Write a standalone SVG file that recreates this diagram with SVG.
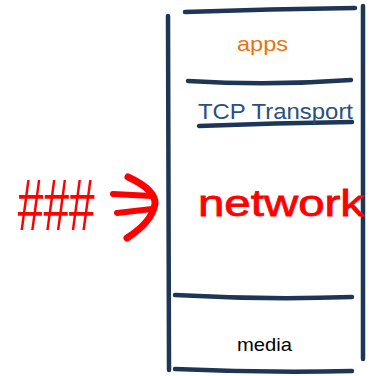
<svg xmlns="http://www.w3.org/2000/svg" width="375" height="376" viewBox="0 0 375 376">
<style>
.ln{fill:none;stroke:#1e3655;stroke-width:4.5;stroke-linecap:round}
.t{font-family:"Liberation Sans",Arial,sans-serif}
.red{fill:none;stroke:#ff0000;stroke-linecap:round;stroke-linejoin:round}
</style>
<rect width="375" height="376" fill="#ffffff"/>
<g id="stack">
<path class="ln" d="M168 16 L169 370"/>
<path class="ln" d="M363 6 L363 359"/>
<path class="ln" d="M185 12 Q270 9 355 8"/>
<path class="ln" d="M188 81 Q270 86 351 80"/>
<path class="ln" d="M199 126 Q275 123 352 122"/>
<path class="ln" d="M175 295 Q265 300 352 297"/>
<path class="ln" d="M175 369 Q265 373 352 371"/>
</g>
<g id="apps"><text class="t" x="237" y="51" font-size="21" fill="#e8740f" textLength="51" lengthAdjust="spacingAndGlyphs">apps</text></g>
<g id="tcp"><text class="t" x="198" y="119" font-size="22" fill="#2b4f7e" textLength="155" lengthAdjust="spacingAndGlyphs">TCP Transport</text></g>
<g id="network"><text class="t" x="198" y="216" font-size="37" fill="#ff0000" stroke="#ff0000" stroke-width="0.8" textLength="166" lengthAdjust="spacingAndGlyphs">network</text></g>
<g id="media"><text class="t" x="237" y="351" font-size="19" fill="#000000" textLength="55" lengthAdjust="spacingAndGlyphs">media</text></g>
<g id="hashes"><text class="t" x="17" y="230" font-size="72" font-style="italic" fill="#ff0000" textLength="77" lengthAdjust="spacingAndGlyphs">###</text></g>
<g id="arrow">
<path class="red" stroke-width="6" d="M113 194 L152 196"/>
<path class="red" stroke-width="6" d="M117 213 L152 209"/>
<path class="red" stroke-width="7" d="M128 177 Q156 190 155 204 Q152 222 127 238"/>
</g>
</svg>
